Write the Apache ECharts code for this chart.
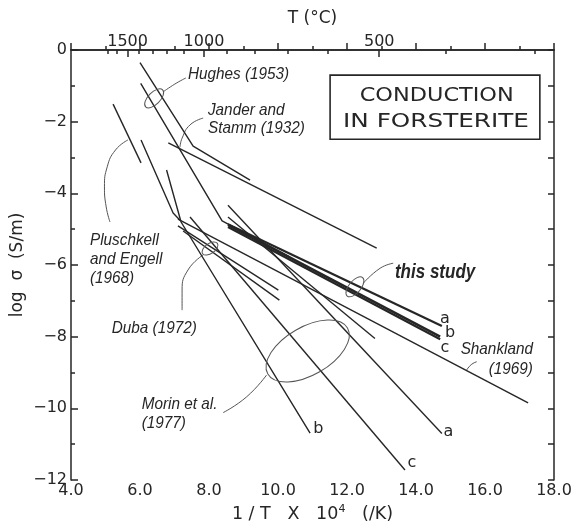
<!DOCTYPE html>
<html><head><meta charset="utf-8">
<script src="https://cdn.jsdelivr.net/npm/echarts@6/dist/echarts.min.js"></script>
<style>html,body{margin:0;padding:0;background:#fff}#c{width:579px;height:523px}</style>
</head><body><div id="c"></div>
<script>
// ---------- data ----------
const xTickValues = [4, 6, 8, 10, 12, 14, 16, 18];
const yTickValues = [0, -2, -4, -6, -8, -10, -12];
const topLabelsC = [1500, 1000, 500];
const topTicksC = [1700, 1600, 1500, 1400, 1300, 1200, 1100, 1000, 900, 800, 700, 600, 500, 400, 300];

const hughesUpper    = [[6.00, -0.35], [7.54, -2.68], [9.19, -3.63]];
const hughesLower    = [[6.02, -0.93], [8.38, -4.77], [10.35, -5.78]];
const janderStamm    = [[6.82, -2.59], [12.86, -5.53]];
const pluschkellHigh = [[5.22, -1.51], [6.03, -3.15]];
const pluschkellLow  = [[6.03, -2.51], [6.96, -4.55], [7.16, -4.75]];
const shankland      = [[7.10, -4.72], [17.25, -9.85]];
const dubaA          = [[7.10, -4.91], [10.01, -6.70]];
const dubaB          = [[7.25, -5.05], [10.04, -6.98]];
const morinA         = [[8.55, -4.33], [14.75, -10.70]];
const morinB         = [[6.77, -3.35], [7.19, -4.80], [10.93, -10.69]];
const morinC         = [[7.45, -4.66], [13.68, -11.72]];
const otherLine      = [[8.55, -4.66], [12.81, -8.05]];
const studyA         = [[8.55, -4.86], [14.75, -7.70]];
const studyB         = [[8.55, -4.88], [14.70, -8.00]];
const studyC         = [[8.55, -4.94], [14.70, -8.07]];

// ---------- annotations (data coordinates) ----------
const leaders = {
  hughes:     [[7.33, -0.78], [7.01, -0.95], [6.67, -1.17]],
  jander:     [[7.83, -1.90], [7.45, -2.09], [7.22, -2.46], [7.16, -2.71]],
  pluschkell: [[5.65, -2.51], [5.29, -2.79], [5.05, -3.26], [4.97, -3.82], [5.02, -4.38], [5.13, -4.80]],
  duba:       [[7.22, -7.26], [7.22, -6.70], [7.39, -6.14], [7.83, -5.72]],
  morin:      [[8.41, -10.12], [9.09, -9.68], [9.67, -9.07]],
  study:      [[13.34, -5.95], [12.96, -6.09], [12.47, -6.51]],
  shank:      [[15.76, -8.70], [15.60, -8.78], [15.47, -8.93]]
};

const chart = echarts.init(document.getElementById('c'));
const toX = c => 1e4 / (c + 273.15);
const INK = '#262626';
const axisLineStyle = { color: INK, width: 1.5 };
const tickFont = { fontSize: 16, color: INK, fontFamily: 'DejaVu Sans' };

function dataLine(name, data, width) {
  return { name, type: 'line', data, symbol: 'none', silent: true, z: 3,
    lineStyle: { color: INK, width: width || 1.4 } };
}
function leaderLine(name, data) {
  return { name, type: 'line', data, symbol: 'none', smooth: 0.5, silent: true, z: 2,
    lineStyle: { color: '#555', width: 1 } };
}

const series = [
  dataLine('Hughes upper', hughesUpper),
  dataLine('Hughes lower', hughesLower),
  dataLine('Jander and Stamm', janderStamm),
  dataLine('Pluschkell high', pluschkellHigh),
  dataLine('Pluschkell low', pluschkellLow),
  dataLine('Shankland', shankland),
  dataLine('Duba a', dubaA),
  dataLine('Duba b', dubaB),
  dataLine('Morin a', morinA),
  dataLine('Morin b', morinB),
  dataLine('Morin c', morinC),
  dataLine('other', otherLine),
  dataLine('this study a', studyA, 2.2),
  dataLine('this study b', studyB, 2.4),
  dataLine('this study c', studyC, 2.2)
];
Object.keys(leaders).forEach(k => series.push(leaderLine('leader ' + k, leaders[k])));

chart.setOption({
  animation: false,
  backgroundColor: '#fff',
  grid: { left: 71, right: 25, top: 50, bottom: 43, containLabel: false, outerBoundsMode: 'none' },
  xAxis: [
    { type: 'value', position: 'bottom', min: 4, max: 18, interval: 2,
      axisLine: { show: true, lineStyle: axisLineStyle },
      axisTick: { show: true, inside: true, length: 7, lineStyle: axisLineStyle },
      minorTick: { show: true, splitNumber: 2, length: 4, lineStyle: axisLineStyle },
      axisLabel: Object.assign({ margin: 3, formatter: v => v.toFixed(1),
        customValues: xTickValues }, tickFont),
      splitLine: { show: false }, minorSplitLine: { show: false },
      name: '{n|1 / T   X   10}{s|4}{n|   (/K)}', nameLocation: 'middle', nameGap: 24,
      nameMoveOverlap: false,
      nameTextStyle: { rich: {
        n: { fontSize: 17.5, color: INK, fontFamily: 'DejaVu Sans', lineHeight: 20 },
        s: { fontSize: 11, color: INK, fontFamily: 'DejaVu Sans', verticalAlign: 'top', lineHeight: 20, padding: [0, 0, 6, 0] } } } },
    { type: 'value', position: 'top', min: 4, max: 18,
      axisLine: { show: true, lineStyle: axisLineStyle },
      axisTick: { show: true, inside: true, length: 4, lineStyle: axisLineStyle, customValues: topTicksC.map(toX) },
      axisLabel: { show: false }, splitLine: { show: false },
      name: 'T (°C)', nameLocation: 'middle', nameGap: 23,
      nameTextStyle: { fontSize: 17, color: INK, fontFamily: 'DejaVu Sans' } },
    { type: 'value', position: 'top', min: 4, max: 18,
      axisLine: { show: false },
      axisTick: { show: true, inside: true, length: 7, lineStyle: axisLineStyle, customValues: topLabelsC.map(toX) },
      axisLabel: Object.assign({ margin: 0, customValues: topLabelsC.map(toX),
        formatter: v => String(Math.round((1e4 / v - 273.15) / 100) * 100) }, tickFont),
      splitLine: { show: false } }
  ],
  yAxis: [
    { type: 'value', position: 'left', min: -12, max: 0, interval: 2,
      axisLine: { show: true, lineStyle: axisLineStyle },
      axisTick: { show: true, inside: true, length: 7, lineStyle: axisLineStyle },
      minorTick: { show: true, splitNumber: 2, length: 4, lineStyle: axisLineStyle },
      axisLabel: Object.assign({ margin: 4, customValues: yTickValues,
        formatter: v => v === 0 ? '0' : '\u2212' + Math.abs(v) }, tickFont),
      splitLine: { show: false }, minorSplitLine: { show: false },
      name: 'log  σ  (S/m)', nameLocation: 'middle', nameGap: 45, nameMoveOverlap: false,
      nameTextStyle: { fontSize: 17, color: INK, fontFamily: 'DejaVu Sans' } },
    { type: 'value', position: 'right', min: -12, max: 0, interval: 1,
      axisLine: { show: true, lineStyle: axisLineStyle },
      axisTick: { show: true, inside: true, length: 6, lineStyle: axisLineStyle },
      axisLabel: { show: false }, splitLine: { show: false } }
  ],
  series
});

// ---------- text and ellipse annotations ----------
const P = (x, y) => chart.convertToPixel({ xAxisIndex: 0, yAxisIndex: 0 }, [x, y]);
const ITALIC = 'italic 17px "Liberation Sans"';
function txt(x, y, text, opts) {
  const p = P(x, y);
  opts = opts || {};
  return { type: 'text', x: p[0], y: p[1], scaleX: opts.sx || 0.9, z: 10, silent: true,
    style: { text, font: opts.font || ITALIC, fill: INK, align: opts.align || 'left',
      verticalAlign: 'middle', lineHeight: opts.lh || 19 } };
}
function ell(x, y, rx, ry, deg) {
  const p = P(x, y);
  return { type: 'ellipse', x: p[0], y: p[1], rotation: deg * Math.PI / 180, z: 9, silent: true,
    shape: { cx: 0, cy: 0, rx, ry }, style: { fill: 'none', stroke: '#555', lineWidth: 1 } };
}
const box0 = P(11.51, -0.70), box1 = P(17.59, -2.49);
const letterFont = '16px "DejaVu Sans"';
const L = { font: letterFont, sx: 1, align: 'center' };
const graphic = [
  txt(7.39, -0.69, 'Hughes (1953)'),
  txt(7.97, -1.92, 'Jander and\nStamm (1932)', { lh: 18 }),
  txt(4.55, -5.85, 'Pluschkell\nand Engell\n(1968)'),
  txt(5.18, -7.76, 'Duba (1972)'),
  txt(6.05, -10.15, 'Morin et al.\n(1977)'),
  txt(13.39, -6.21, 'this study', { font: 'italic bold 20px "Liberation Sans"', sx: 0.85 }),
  txt(17.39, -8.64, 'Shankland\n(1969)', { align: 'right', lh: 20 }),
  { type: 'rect', z: 9, silent: true,
    shape: { x: box0[0], y: box0[1], width: box1[0] - box0[0], height: box1[1] - box0[1] },
    style: { fill: '#fff', stroke: INK, lineWidth: 1.6 } },
  txt(14.60, -1.28, 'CONDUCTION', { font: '19px "DejaVu Sans"', align: 'center', sx: 1.18 }),
  txt(14.58, -2.02, 'IN FORSTERITE', { font: '19px "DejaVu Sans"', align: 'center', sx: 1.3 }),
  txt(14.84, -7.51, 'a', L),
  txt(14.99, -7.88, 'b', L),
  txt(14.84, -8.32, 'c', L),
  txt(11.17, -10.58, 'b', L),
  txt(14.94, -10.65, 'a', L),
  txt(13.88, -11.51, 'c', L),
  ell(6.41, -1.35, 12, 6, 45),
  ell(8.03, -5.54, 9, 5, 35),
  ell(10.86, -8.40, 46, 24, 30),
  ell(12.23, -6.61, 12, 6, 50)
];
chart.setOption({ graphic });
</script>
</body></html>
